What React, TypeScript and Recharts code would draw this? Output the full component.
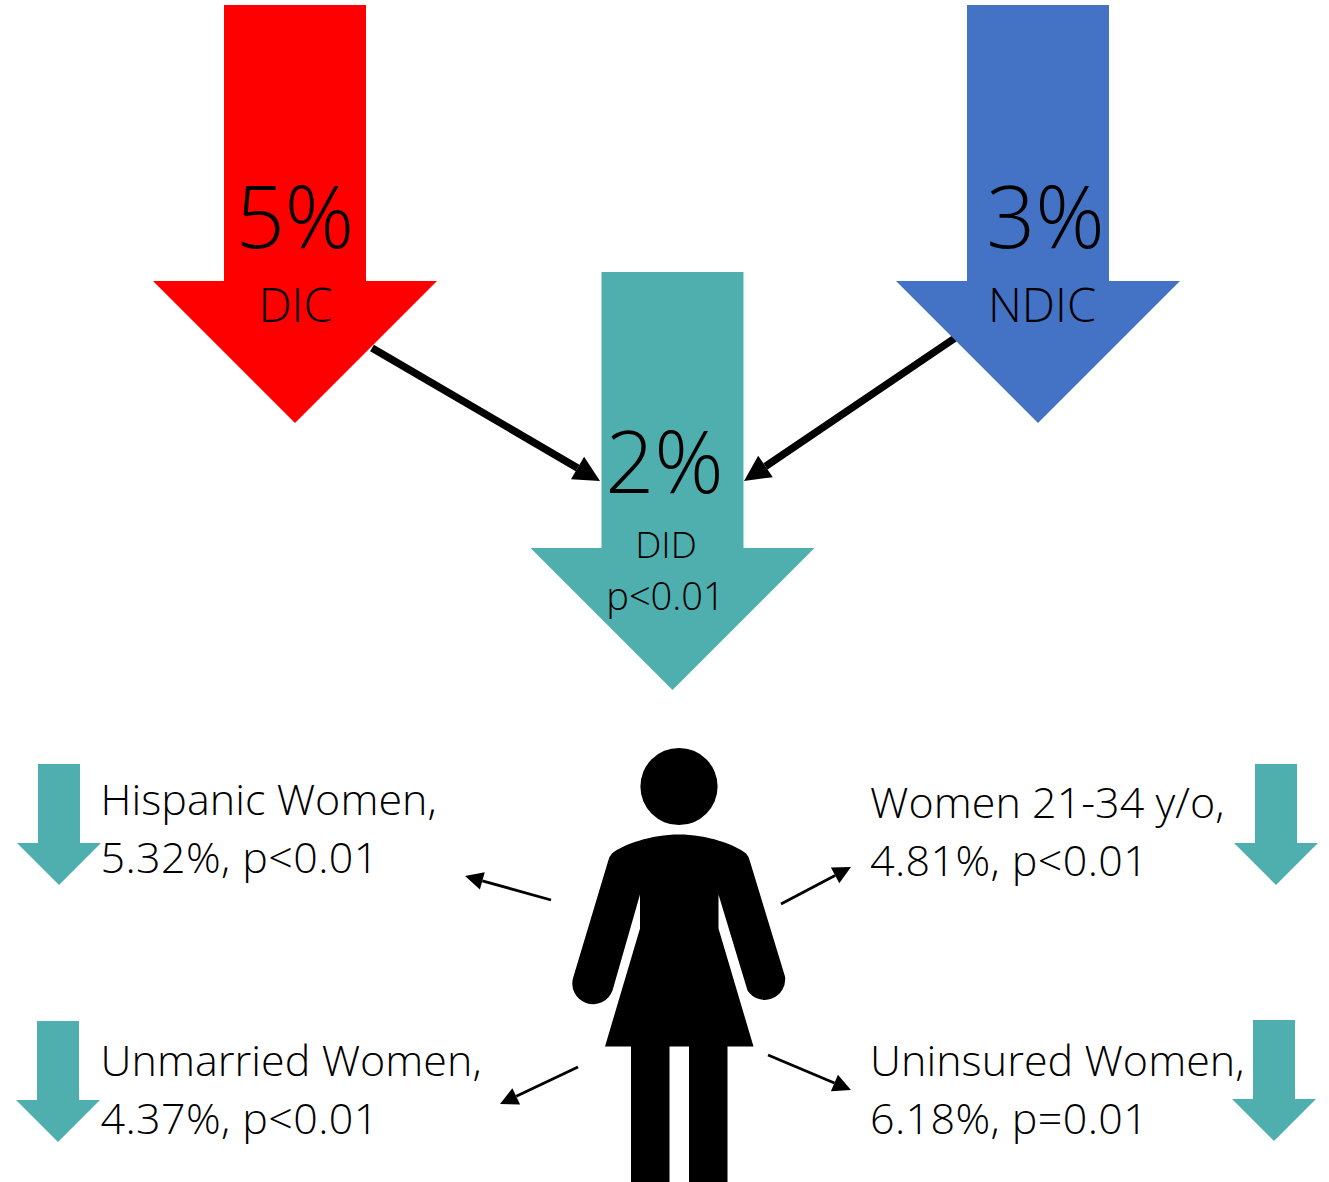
import React from 'react';
import { ComposedChart, Scatter, ReferenceLine, XAxis, YAxis } from 'recharts';

const WIDTH = 1329;
const HEIGHT = 1182;
const FONT = '"Open Sans", "Noto Sans", sans-serif';
const TEAL = '#4FAEAE';

// headline estimates
const headlineNames = ['DIC', 'NDIC', 'DID'];
const headlineValues = [5, 3, 2];
const headlineColors = ['#FF0000', '#4472C4', TEAL];
const headlineArrowX = [295, 1038, 672.5];
const headlineArrowY = [5, 5, 272];
const headlineValueX = [295, 1045.5, 664.5];
const headlineValueY = [248, 248, 493];
const headlineNameX = [295.5, 1042, 666];
const headlineNameY = [322, 322, 558];
const didPValue = 'p<0.01';

// subgroup estimates
const groupNames = ['Hispanic Women,', 'Women 21-34 y/o,', 'Unmarried Women,', 'Uninsured Women,'];
const groupValues = [5.32, 4.81, 4.37, 6.18];
const groupPValues = ['p<0.01', 'p<0.01', 'p<0.01', 'p=0.01'];
const groupArrowX = [59, 1276, 58, 1274];
const groupArrowY = [764, 764, 1021, 1020];
const groupTextX = [100.5, 870, 100.5, 870];
const groupTextY = [815, 818, 1076, 1076];
const groupLineGap = 58;

// connectors as [fromX, fromY, toX, toY]
const heavyConnectors = [
  [372, 348, 600, 481],
  [958, 336, 744, 481],
];
const lightConnectors = [
  [551, 900, 465, 876],
  [781, 904, 851, 867],
  [578, 1067, 500, 1104],
  [768, 1055, 851, 1090],
];

const figureAnchor = [{ x: 679, y: 786.5 }];

const DownArrow = (shaft: number, head: number, neck: number, length: number) => (props: any) => {
  const { cx, cy, fill } = props;
  const points = [
    [cx - shaft, cy],
    [cx + shaft, cy],
    [cx + shaft, cy + neck],
    [cx + head, cy + neck],
    [cx, cy + length],
    [cx - head, cy + neck],
    [cx - shaft, cy + neck],
  ];
  return <polygon points={points.map((p) => p.join(',')).join(' ')} fill={fill} />;
};

const BigArrow = DownArrow(71, 142, 276, 418);
const SmallArrow = DownArrow(21, 42, 79, 121);

const TextMark = (size: number, anchor: string, spacing = 0) => (props: any) => (
  <text
    x={props.cx}
    y={props.cy}
    fontFamily={FONT}
    fontWeight={300}
    fontSize={size}
    textAnchor={anchor}
    letterSpacing={spacing}
    fill="#000"
  >
    {props.payload.text}
  </text>
);

const Connector = (width: number, headLength: number, headWidth: number) => (props: any) => {
  const { x1, y1, x2, y2 } = props;
  const len = Math.hypot(x2 - x1, y2 - y1);
  const ux = (x2 - x1) / len;
  const uy = (y2 - y1) / len;
  const bx = x2 - ux * headLength;
  const by = y2 - uy * headLength;
  const nx = -uy * headWidth;
  const ny = ux * headWidth;
  return (
    <g>
      <line x1={x1} y1={y1} x2={bx} y2={by} stroke="#000" strokeWidth={width} />
      <polygon points={`${x2},${y2} ${bx + nx},${by + ny} ${bx - nx},${by - ny}`} fill="#000" />
    </g>
  );
};

// woman pictogram, drawn relative to the centre of the head
const Figure = (props: any) => {
  const { cx, cy } = props;
  const p = (dx: number, dy: number) => `${cx + dx} ${cy + dy}`;
  const body = [
    `M${p(0, 48)}`,
    `C${p(-28, 48)} ${p(-56, 58)} ${p(-67, 67)}`,
    `Q${p(-70, 70)} ${p(-71, 75)}`,
    `L${p(-105.5, 190)}`,
    `A20.5 20.5 0 0 0 ${p(-66.5, 204)}`,
    `L${p(-39, 108)}`,
    `L${p(-39, 142)}`,
    `L${p(-74, 260)}`,
    `L${p(-48, 260)}`,
    `L${p(-48, 396)}`,
    `L${p(-9.5, 396)}`,
    `L${p(-9.5, 260)}`,
    `L${p(10, 260)}`,
    `L${p(10, 396)}`,
    `L${p(48.5, 396)}`,
    `L${p(48.5, 260)}`,
    `L${p(74.5, 260)}`,
    `L${p(39.5, 142)}`,
    `L${p(39.5, 108)}`,
    `L${p(68.5, 204)}`,
    `A20.5 20.5 0 0 0 ${p(106, 190)}`,
    `L${p(71, 75)}`,
    `Q${p(70, 70)} ${p(67, 67)}`,
    `C${p(56, 58)} ${p(28, 48)} ${p(0, 48)}`,
    'Z',
  ].join(' ');
  return (
    <g>
      <circle cx={cx} cy={cy} r={38.6} fill="#000" />
      <path d={body} fill="#000" />
    </g>
  );
};

const headlineValueRows = headlineValues.map((v, i) => ({
  x: headlineValueX[i],
  y: headlineValueY[i],
  text: `${v}%`,
}));
const bigNameRows = [0, 1].map((i) => ({
  x: headlineNameX[i],
  y: headlineNameY[i],
  text: headlineNames[i],
}));
const didNameRow = [{ x: headlineNameX[2], y: headlineNameY[2], text: headlineNames[2] }];
const didPRow = [{ x: headlineNameX[2] - 0.5, y: headlineNameY[2] + 51.5, text: didPValue }];
const groupNameRows = groupNames.map((name, i) => ({
  x: groupTextX[i],
  y: groupTextY[i],
  text: name,
}));
const groupValueRows = groupValues.map((v, i) => ({
  x: groupTextX[i],
  y: groupTextY[i] + groupLineGap,
  text: `${v}%, ${groupPValues[i]}`,
}));
const groupArrowRows = groupArrowX.map((x, i) => ({ x, y: groupArrowY[i] }));

const segment = (c: number[]) => [
  { x: c[0], y: c[1] },
  { x: c[2], y: c[3] },
];

export default function App() {
  return (
    <div style={{ position: 'absolute', left: 0, top: 0, width: WIDTH, height: HEIGHT }}>
      <ComposedChart width={WIDTH} height={HEIGHT} margin={{ top: 0, right: 0, bottom: 0, left: 0 }}>
        <XAxis type="number" dataKey="x" domain={[0, WIDTH]} hide />
        <YAxis type="number" dataKey="y" domain={[0, HEIGHT]} reversed hide />

        {headlineArrowX.map((x, i) => (
          <Scatter
            key={headlineNames[i]}
            data={[{ x, y: headlineArrowY[i] }]}
            fill={headlineColors[i]}
            shape={BigArrow}
            isAnimationActive={false}
          />
        ))}
        <Scatter data={groupArrowRows} fill={TEAL} shape={SmallArrow} isAnimationActive={false} />
        <Scatter data={figureAnchor} shape={Figure} isAnimationActive={false} />

        {heavyConnectors.map((c, i) => (
          <ReferenceLine key={`heavy-${i}`} segment={segment(c)} shape={Connector(7.5, 26, 13)} />
        ))}
        {lightConnectors.map((c, i) => (
          <ReferenceLine key={`light-${i}`} segment={segment(c)} shape={Connector(2.8, 18, 9)} />
        ))}

        <Scatter data={headlineValueRows} shape={TextMark(86, 'middle')} isAnimationActive={false} />
        <Scatter data={bigNameRows} shape={TextMark(47, 'middle')} isAnimationActive={false} />
        <Scatter data={didNameRow} shape={TextMark(37, 'middle')} isAnimationActive={false} />
        <Scatter data={didPRow} shape={TextMark(38, 'middle')} isAnimationActive={false} />
        <Scatter data={groupNameRows} shape={TextMark(43, 'start', 0.05)} isAnimationActive={false} />
        <Scatter data={groupValueRows} shape={TextMark(43, 'start', 0.4)} isAnimationActive={false} />
      </ComposedChart>
    </div>
  );
}
